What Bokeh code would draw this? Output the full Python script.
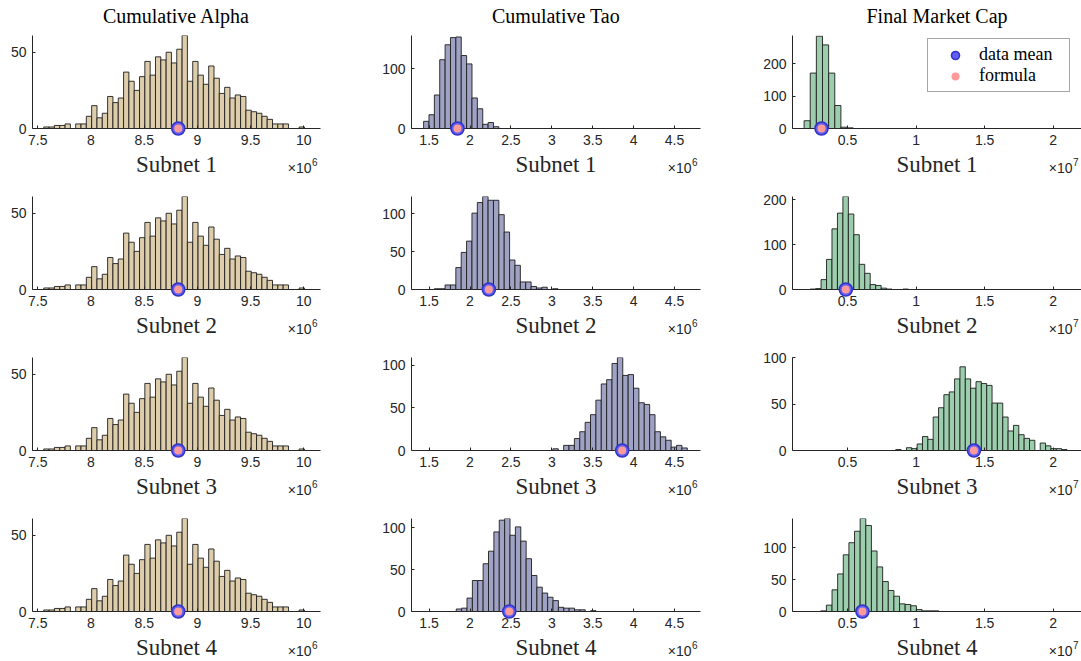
from bokeh.plotting import figure
from bokeh.layouts import column, row
from bokeh.models import (Range1d, FixedTicker, CustomJSTickFormatter,
                          Legend, LegendItem, ColumnDataSource)
from bokeh.core.properties import value
from bokeh.embed import file_html
from bokeh.resources import INLINE

# ------------------------------------------------------------------ data
column_titles = ["Cumulative Alpha", "Cumulative Tao", "Final Market Cap"]
subnet_names = ["Subnet 1", "Subnet 2", "Subnet 3", "Subnet 4"]
legend_labels = ["data mean", "formula"]

# Cumulative Alpha (same sample shown for every subnet)
alpha_counts_sample = [1, 1, 2, 2, 3, 0, 3, 3, 8, 15, 7, 10, 21, 17, 20, 37, 31, 25, 34, 44,
                       35, 47, 45, 50, 43, 52, 61, 31, 44, 35, 29, 41, 33, 23, 27, 20, 22, 21,
                       12, 11, 10, 8, 6, 3, 3, 3, 0, 0, 1]
alpha_counts = [alpha_counts_sample] * 4
alpha_bin_start = [7.556e6, 7.556e6, 7.556e6, 7.556e6]
alpha_bin_width = [0.05e6, 0.05e6, 0.05e6, 0.05e6]
alpha_data_mean = [8.82e6, 8.82e6, 8.82e6, 8.82e6]
alpha_formula = [8.82e6, 8.82e6, 8.82e6, 8.82e6]

# Cumulative Tao
tao_counts_s1 = [12, 23, 56, 115, 140, 152, 153, 122, 108, 51, 33, 7, 10, 3]
tao_counts_s2 = [1, 1, 6, 6, 29, 49, 64, 101, 115, 123, 118, 118, 99, 76, 39, 32, 10, 10,
                 4, 2, 3, 0, 1]
tao_counts_s3 = [2, 0, 6, 6, 14, 22, 33, 42, 59, 78, 83, 102, 109, 88, 89, 73, 56, 54, 42,
                 22, 16, 12, 4, 6, 3]
tao_counts_s4 = [3, 4, 16, 37, 37, 57, 72, 95, 109, 111, 91, 101, 84, 63, 43, 29, 22, 17, 13,
                 5, 4, 4, 2, 2, 0, 1]
tao_counts = [tao_counts_s1, tao_counts_s2, tao_counts_s3, tao_counts_s4]
tao_bin_start = [1.433e6, 1.564e6, 3.013e6, 1.832e6]
tao_bin_width = [0.0657e6, 0.0657e6, 0.0657e6, 0.0657e6]
tao_data_mean = [1.847e6, 2.23e6, 3.86e6, 2.48e6]
tao_formula = [1.847e6, 2.23e6, 3.86e6, 2.48e6]

# Final Market Cap
mcap_counts_s1 = [24, 171, 285, 258, 171, 71, 4, 2]
mcap_counts_s2 = [1, 2, 22, 67, 135, 170, 207, 168, 122, 56, 36, 11, 9, 3, 1, 0, 0, 1]
mcap_counts_s3 = [1, 0, 3, 2, 7, 15, 12, 36, 46, 60, 63, 77, 90, 77, 67, 74, 72, 70, 51, 51,
                  36, 21, 27, 17, 13, 11, 0, 8, 5, 2, 2, 1]
mcap_counts_s4 = [1, 10, 34, 59, 89, 108, 126, 146, 135, 95, 70, 47, 33, 24, 12, 11, 9, 3,
                  1, 1, 1]
mcap_counts = [mcap_counts_s1, mcap_counts_s2, mcap_counts_s3, mcap_counts_s4]
mcap_bin_start = [0.184e7, 0.228e7, 0.852e7, 0.3056e7]
mcap_bin_width = [0.0447e7, 0.0398e7, 0.039e7, 0.041e7]
mcap_data_mean = [0.311e7, 0.488e7, 1.422e7, 0.609e7]
mcap_formula = [0.311e7, 0.488e7, 1.422e7, 0.609e7]

# axes
x_limits = [(7.45e6, 10.157e6), (1.285e6, 4.817e6), (0.0994e7, 2.206e7)]
x_ticks = [[7.5e6, 8e6, 8.5e6, 9e6, 9.5e6, 10e6],
           [1.5e6, 2e6, 2.5e6, 3e6, 3.5e6, 4e6, 4.5e6],
           [0.5e7, 1e7, 1.5e7, 2e7]]
x_scale = [1e6, 1e6, 1e7]
x_exponent = ["6", "6", "7"]
y_top = [[61, 61, 61, 61], [155.5, 123, 109, 111], [287, 207, 100, 146]]
y_ticks = [[[0, 50]] * 4,
           [[0, 100], [0, 50, 100], [0, 50, 100], [0, 50, 100]],
           [[0, 100, 200], [0, 100, 200], [0, 50, 100], [0, 50, 100]]]

columns_data = [
    (alpha_counts, alpha_bin_start, alpha_bin_width, alpha_data_mean, alpha_formula),
    (tao_counts, tao_bin_start, tao_bin_width, tao_data_mean, tao_formula),
    (mcap_counts, mcap_bin_start, mcap_bin_width, mcap_data_mean, mcap_formula),
]

# ------------------------------------------------------------------ style
bar_colors = ["#ddcdab", "#a0a2c4", "#9ccdac"]
edge_color = "#1e1e1e"
mean_fill = "#6060f2"
mean_edge = "#3434c8"
formula_fill = "#ff9a9a"
axis_color = "#262626"
serif = "Liberation Serif"
sans = "Liberation Sans"

border_left = [32, 51, 72]
frame_w = [288, 289, 289]
border_right = [40, 20, 0]
border_top = [35, 20, 20, 20]
frame_h = 93
border_bottom = 48


def px_to_y(px, ytop):
    # screen distance (px) from the x axis -> data units (positive = below axis)
    return -px * ytop / frame_h


def make_panel(r, c):
    counts, starts, widths, means, formulas = columns_data[c]
    cnt = counts[r]
    start = starts[r]
    w = widths[r]
    left = [start + i * w for i in range(len(cnt))]
    right = [start + (i + 1) * w for i in range(len(cnt))]
    x0, x1 = x_limits[c]
    ytop = y_top[c][r]
    xc = (x0 + x1) / 2

    p = figure(output_backend="svg", toolbar_location=None, tools="",
               x_range=Range1d(x0, x1), y_range=Range1d(0, ytop),
               frame_width=frame_w[c], frame_height=frame_h,
               min_border_left=border_left[c], min_border_right=border_right[c],
               min_border_top=border_top[r], min_border_bottom=border_bottom,
               background_fill_color="white", border_fill_color="white")
    p.outline_line_color = None
    p.xgrid.visible = False
    p.ygrid.visible = False

    src = ColumnDataSource(dict(left=left, right=right, top=cnt, bottom=[0] * len(cnt)))
    p.quad(left="left", right="right", top="top", bottom="bottom", source=src,
           fill_color=bar_colors[c], fill_alpha=1.0, line_color=edge_color, line_width=0.9)

    r_mean = p.scatter(x=[means[r]], y=[0], size=13, marker="circle", fill_color=mean_fill,
                       line_color=mean_edge, line_width=1.6, level="overlay")
    r_form = p.scatter(x=[formulas[r]], y=[0], size=8, marker="circle",
                       fill_color=formula_fill, line_color=None, level="overlay")

    for ax in (p.xaxis[0], p.yaxis[0]):
        ax.axis_line_color = axis_color
        ax.axis_line_width = 1
        ax.major_tick_line_color = axis_color
        ax.major_tick_in = 3
        ax.major_tick_out = 0
        ax.minor_tick_line_color = None
        ax.major_label_text_font = sans
        ax.major_label_text_font_size = "14px"
        ax.major_label_text_color = axis_color
    p.xaxis[0].ticker = FixedTicker(ticks=x_ticks[c])
    p.xaxis[0].formatter = CustomJSTickFormatter(
        args=dict(s=x_scale[c]), code="return String(Math.round(tick / s * 100) / 100)")
    p.xaxis[0].major_label_standoff = 6
    p.yaxis[0].ticker = FixedTicker(ticks=y_ticks[c][r])
    p.yaxis[0].major_label_standoff = 6

    # column title above the top row
    if r == 0:
        p.text(x=[xc], y=[ytop - px_to_y(20, ytop)], text=[column_titles[c]],
               text_align="center", text_baseline="middle",
               text_font=value(serif), text_font_size=value("20px"),
               text_color="black", level="overlay")

    # x label ("Subnet N") and the axis multiplier, drawn below the axis
    p.text(x=[xc], y=[px_to_y(36, ytop)], text=[subnet_names[r]],
           text_align="center", text_baseline="middle",
           text_font=value(serif), text_font_size=value("23px"),
           text_color=axis_color, level="overlay")
    p.text(x=[x1], y=[px_to_y(39, ytop)], text=["\u00d710"], x_offset=-9,
           text_align="right", text_baseline="middle",
           text_font=value(sans), text_font_size=value("14px"),
           text_color=axis_color, level="overlay")
    p.text(x=[x1], y=[px_to_y(33, ytop)], text=[x_exponent[c]], x_offset=-8.5,
           text_align="left", text_baseline="middle",
           text_font=value(sans), text_font_size=value("10px"),
           text_color=axis_color, level="overlay")

    if r == 0 and c == 2:
        legend = Legend(items=[LegendItem(label=legend_labels[0], renderers=[r_mean]),
                               LegendItem(label=legend_labels[1], renderers=[r_form])],
                        location=(135, 36))
        legend.label_text_font = serif
        legend.label_text_font_size = "18px"
        legend.label_text_color = "black"
        legend.border_line_color = "#4d4d4d"
        legend.border_line_width = 1
        legend.background_fill_color = "white"
        legend.background_fill_alpha = 1.0
        legend.padding = 5
        legend.spacing = 0
        legend.margin = 0
        legend.glyph_width = 44
        legend.glyph_height = 20
        legend.label_height = 20
        legend.label_width = 85
        legend.label_standoff = 2
        p.add_layout(legend)
    return p


rows = []
for r in range(4):
    rows.append(row([make_panel(r, c) for c in range(3)], spacing=0))
layout = column(rows, spacing=0)

open("out.html", "w").write(file_html(layout, INLINE))
